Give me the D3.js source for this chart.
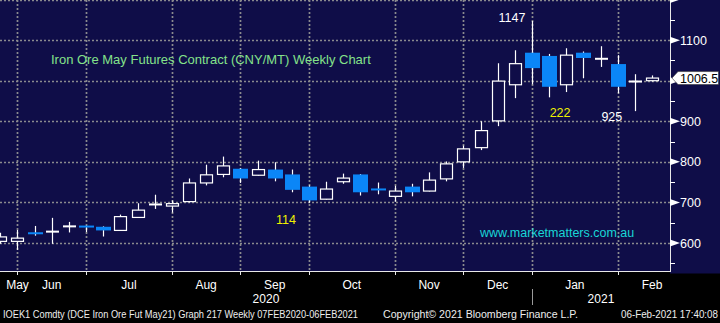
<!DOCTYPE html>
<html>
<head>
<meta charset="utf-8">
<script src="https://cdn.jsdelivr.net/npm/d3@7"></script>
<style>
  html, body { margin: 0; padding: 0; background: #000; }
  svg { display: block; }
</style>
</head>
<body>
<svg id="chart" width="720" height="323"></svg>
<script>
// Weekly candles, DCE iron ore May-21 contract (CNY/MT)
const weeks = [
  "2020-05-15","2020-05-22","2020-05-29","2020-06-05","2020-06-12","2020-06-19","2020-06-26",
  "2020-07-03","2020-07-10","2020-07-17","2020-07-24","2020-07-31","2020-08-07","2020-08-14",
  "2020-08-21","2020-08-28","2020-09-04","2020-09-11","2020-09-18","2020-09-25","2020-10-02",
  "2020-10-09","2020-10-16","2020-10-23","2020-10-30","2020-11-06","2020-11-13","2020-11-20",
  "2020-11-27","2020-12-04","2020-12-11","2020-12-18","2020-12-25","2021-01-01","2021-01-08",
  "2021-01-15","2021-01-22","2021-01-29","2021-02-05"
];
const opens  = [604,604,625,627,640,642,640,631,663,694,691,702,748,769,783,767,781,769,739,708,
                751,769,733,715,739,728,758,800,835,901,990,1069,1061,990,1069,1053,1041,997,1000];
const highs  = [625,632,642,662,652,643,641,670,698,719,705,759,793,813,785,803,799,781,742,751,
                771,770,749,741,746,774,801,840,900,1043,1075,1147,1066,1080,1072,1085,1063,1016,1013];
const lows   = [598,583,618,598,626,627,616,630,662,684,675,700,742,762,748,766,752,725,699,707,
                746,717,720,702,715,727,752,785,829,888,957,991,959,972,1006,1034,969,925,998];
const closes = [615,612,623,629,642,639,631,665,681,696,697,748,768,790,759,781,759,731,705,733,
                760,725,731,728,725,755,795,832,877,999,1042,1031,985,1063,1056,1055,985,999,1006.5];

// Axis ticks (the 1000 level sits under the last-price tag)
const majorTicks = [600, 700, 800, 900, 1000, 1100, 1200];
const majorLabels = ["600", "700", "800", "900", "", "1100", ""];
const minorTicks = [550, 650, 750, 850, 950, 1050, 1150];

// Month bands: monthNames[k+1] starts at week index monthStarts[k]
const monthNames = ["May", "Jun", "Jul", "Aug", "Sep", "Oct", "Nov", "Dec", "Jan", "Feb"];
const monthStarts = [1, 5, 10, 14, 18, 23, 27, 31, 36];
const yearNames = ["2020", "2021"];
const yearStart = 31;

const titleText = "Iron Ore May Futures Contract (CNY/MT) Weekly Chart";
const siteText = "www.marketmatters.com.au";
const footerLeft = "IOEK1 Comdty (DCE Iron Ore Fut  May21) Graph 217  Weekly 07FEB2020-06FEB2021";
const footerMid = "Copyright\u00A9 2021 Bloomberg Finance L.P.";
const footerRight = "06-Feb-2021 17:40:08";

const NAVY = "#0f0d48", BLUE = "#0b86f7", GRID = "#8a8a8e", WHITE = "#ffffff";
const FONT = "'Liberation Sans', Arial, sans-serif";

const svg = d3.select("#chart");
const plotRight = 670, plotBottom = 271;

const x = d3.scalePoint().domain(weeks).range([0.3, 652]);
const step = x.step();
const y = d3.scaleLinear().domain([600, 1000]).range([243, 80.7]);
const xi = i => x(weeks[i]);

// backgrounds
svg.append("rect").attr("width", 720).attr("height", 323).attr("fill", "#000");
svg.append("rect").attr("width", 720).attr("height", plotBottom).attr("fill", NAVY);
svg.append("rect").attr("x", plotRight).attr("width", 50).attr("height", plotBottom + 2.5).attr("fill", NAVY);

// dotted grid
const grid = svg.append("g").attr("stroke", GRID).attr("stroke-width", 1.7).attr("stroke-dasharray", "2,2");
grid.selectAll("line.h").data(majorTicks).join("line")
  .attr("x1", 0).attr("x2", plotRight)
  .attr("y1", d => Math.round(y(d)) + 0.5).attr("y2", d => Math.round(y(d)) + 0.5);
grid.selectAll("line.v").data(monthStarts).join("line")
  .attr("x1", d => Math.round(xi(d)) + 0.5).attr("x2", d => Math.round(xi(d)) + 0.5)
  .attr("y1", 0).attr("y2", plotBottom);

// candles
const candles = weeks.map((w, i) => ({ w, o: opens[i], h: highs[i], l: lows[i], c: closes[i] }));
const cg = svg.append("g");
const cx = d => Math.round(x(d.w)) + 0.5;
cg.selectAll("line.wick").data(candles).join("line")
  .attr("x1", cx).attr("x2", cx)
  .attr("y1", d => y(d.h)).attr("y2", d => y(d.l))
  .attr("stroke", WHITE).attr("stroke-width", 1.2);

cg.selectAll("rect.body").data(candles).join("rect")
  .each(function (d) {
    const top = y(Math.max(d.o, d.c)), bot = y(Math.min(d.o, d.c));
    const h = Math.max(bot - top, 2);
    const mid = (top + bot) / 2;
    const r = d3.select(this);
    if (d.c < d.o) {
      r.attr("x", cx(d) - 7.5).attr("width", 15)
       .attr("y", mid - h / 2).attr("height", h)
       .attr("fill", BLUE);
    } else if (bot - top < 2.2) {
      r.attr("x", cx(d) - 6.5).attr("width", 13)
       .attr("y", mid - 1).attr("height", 2)
       .attr("fill", WHITE);
    } else {
      r.attr("x", cx(d) - 6).attr("width", 12)
       .attr("y", top).attr("height", bot - top)
       .attr("fill", NAVY).attr("stroke", WHITE).attr("stroke-width", 1.2);
    }
  });

// right axis
svg.append("line").attr("x1", plotRight + 0.5).attr("x2", plotRight + 0.5)
  .attr("y1", 0).attr("y2", plotBottom + 1).attr("stroke", "#e8e8e8").attr("stroke-width", 1);
svg.selectAll("path.tick").data(majorTicks).join("path")
  .attr("d", d => { const yy = y(d); return `M${plotRight},${yy - 3.5}L${plotRight + 10},${yy}L${plotRight},${yy + 3.5}Z`; })
  .attr("fill", WHITE);
svg.selectAll("line.minor").data(minorTicks).join("line")
  .attr("x1", plotRight).attr("x2", plotRight + 5)
  .attr("y1", d => Math.round(y(d)) + 0.5).attr("y2", d => Math.round(y(d)) + 0.5)
  .attr("stroke", WHITE).attr("stroke-width", 1);
svg.selectAll("text.ylab").data(majorTicks.filter((d, i) => majorLabels[i])).join("text")
  .attr("x", 680).attr("y", d => y(d)).attr("dy", "0.36em")
  .attr("fill", WHITE).attr("font-family", FONT).attr("font-size", 12.5)
  .text(d => majorLabels[majorTicks.indexOf(d)]);

// last price tag
const last = closes[closes.length - 1];
const ly = y(last);
svg.append("path")
  .attr("d", `M672,${ly}L678,${ly - 6.5}L718.5,${ly - 6.5}L718.5,${ly + 6.5}L678,${ly + 6.5}Z`)
  .attr("fill", WHITE).attr("stroke", "#333").attr("stroke-width", 0.6);
svg.append("text").attr("x", 680).attr("y", ly).attr("dy", "0.36em")
  .attr("fill", "#000").attr("font-family", FONT).attr("font-size", 12.5)
  .text(d3.format(".1f")(last));

// bottom axis
svg.append("line").attr("x1", 0).attr("x2", plotRight + 1)
  .attr("y1", plotBottom + 0.5).attr("y2", plotBottom + 0.5)
  .attr("stroke", "#e8e8e8").attr("stroke-width", 1);
svg.selectAll("line.xtick").data(monthStarts).join("line")
  .attr("x1", d => Math.round(xi(d)) + 0.5).attr("x2", d => Math.round(xi(d)) + 0.5)
  .attr("y1", plotBottom).attr("y2", plotBottom + 4)
  .attr("stroke", "#e8e8e8").attr("stroke-width", 1);

const bounds = [monthStarts[0] - 4].concat(monthStarts, [monthStarts[monthStarts.length - 1] + 4]);
const ml = svg.append("g").attr("fill", WHITE).attr("font-family", FONT).attr("font-size", 12)
  .attr("text-anchor", "middle");
monthNames.forEach((m, k) => {
  let mid = (xi(0) + step * bounds[k] + xi(0) + step * bounds[k + 1]) / 2;
  mid = Math.max(mid, 17.5);
  ml.append("text").attr("x", mid).attr("y", 288.5).text(m);
});
const yearMidA = xi(yearStart) / 2;
const yearMidB = (xi(yearStart) + plotRight) / 2;
ml.append("text").attr("x", yearMidA).attr("y", 303).text(yearNames[0]);
ml.append("text").attr("x", yearMidB).attr("y", 303).text(yearNames[1]);
svg.append("line").attr("x1", Math.round(xi(yearStart)) + 0.5).attr("x2", Math.round(xi(yearStart)) + 0.5)
  .attr("y1", 289).attr("y2", 305).attr("stroke", "#9a9a9a").attr("stroke-width", 1);

// title and site
svg.append("text").attr("x", 51).attr("y", 63.5)
  .attr("fill", "#84e28a").attr("font-family", FONT).attr("font-size", 13).text(titleText);
svg.append("text").attr("x", 480).attr("y", 236.5)
  .attr("fill", "#19d6d6").attr("font-family", FONT).attr("font-size", 12.5).text(siteText);

// annotations: peak, trough, fall and the September pullback
const peakI = 31, troughI = 37, swingHiI = 13, swingLoI = 18;
const ann = svg.append("g").attr("font-family", FONT).attr("font-size", 12.5).attr("text-anchor", "middle");
ann.append("text").attr("x", xi(peakI) - 20).attr("y", y(highs[peakI]) - 4).attr("dy", "0.36em")
  .attr("fill", WHITE).text(highs[peakI]);
ann.append("text").attr("x", xi(troughI) - 23).attr("y", y(lows[troughI]) + 5).attr("dy", "0.36em")
  .attr("fill", WHITE).text(lows[troughI]);
ann.append("text").attr("x", xi(peakI + 1) + 11).attr("y", y(lows[troughI]) + 1).attr("dy", "0.36em")
  .attr("fill", "#f0f000").text(highs[peakI] - lows[troughI]);
ann.append("text").attr("x", xi(swingLoI) - 23).attr("y", y(lows[swingLoI]) + 17).attr("dy", "0.36em")
  .attr("fill", "#f0f000").text(highs[swingHiI] - lows[swingLoI]);

// footer line
const ft = svg.append("g").attr("fill", "#eeeeee").attr("font-family", FONT).attr("font-size", 10)
  .style("white-space", "pre");
ft.append("text").attr("x", 3).attr("y", 318).attr("textLength", 355)
  .attr("lengthAdjust", "spacingAndGlyphs").text(footerLeft);
ft.append("text").attr("x", 383).attr("y", 318).attr("textLength", 195)
  .attr("lengthAdjust", "spacingAndGlyphs").text(footerMid);
ft.append("text").attr("x", 621).attr("y", 318).attr("textLength", 97)
  .attr("lengthAdjust", "spacingAndGlyphs").text(footerRight);
</script>
</body>
</html>
